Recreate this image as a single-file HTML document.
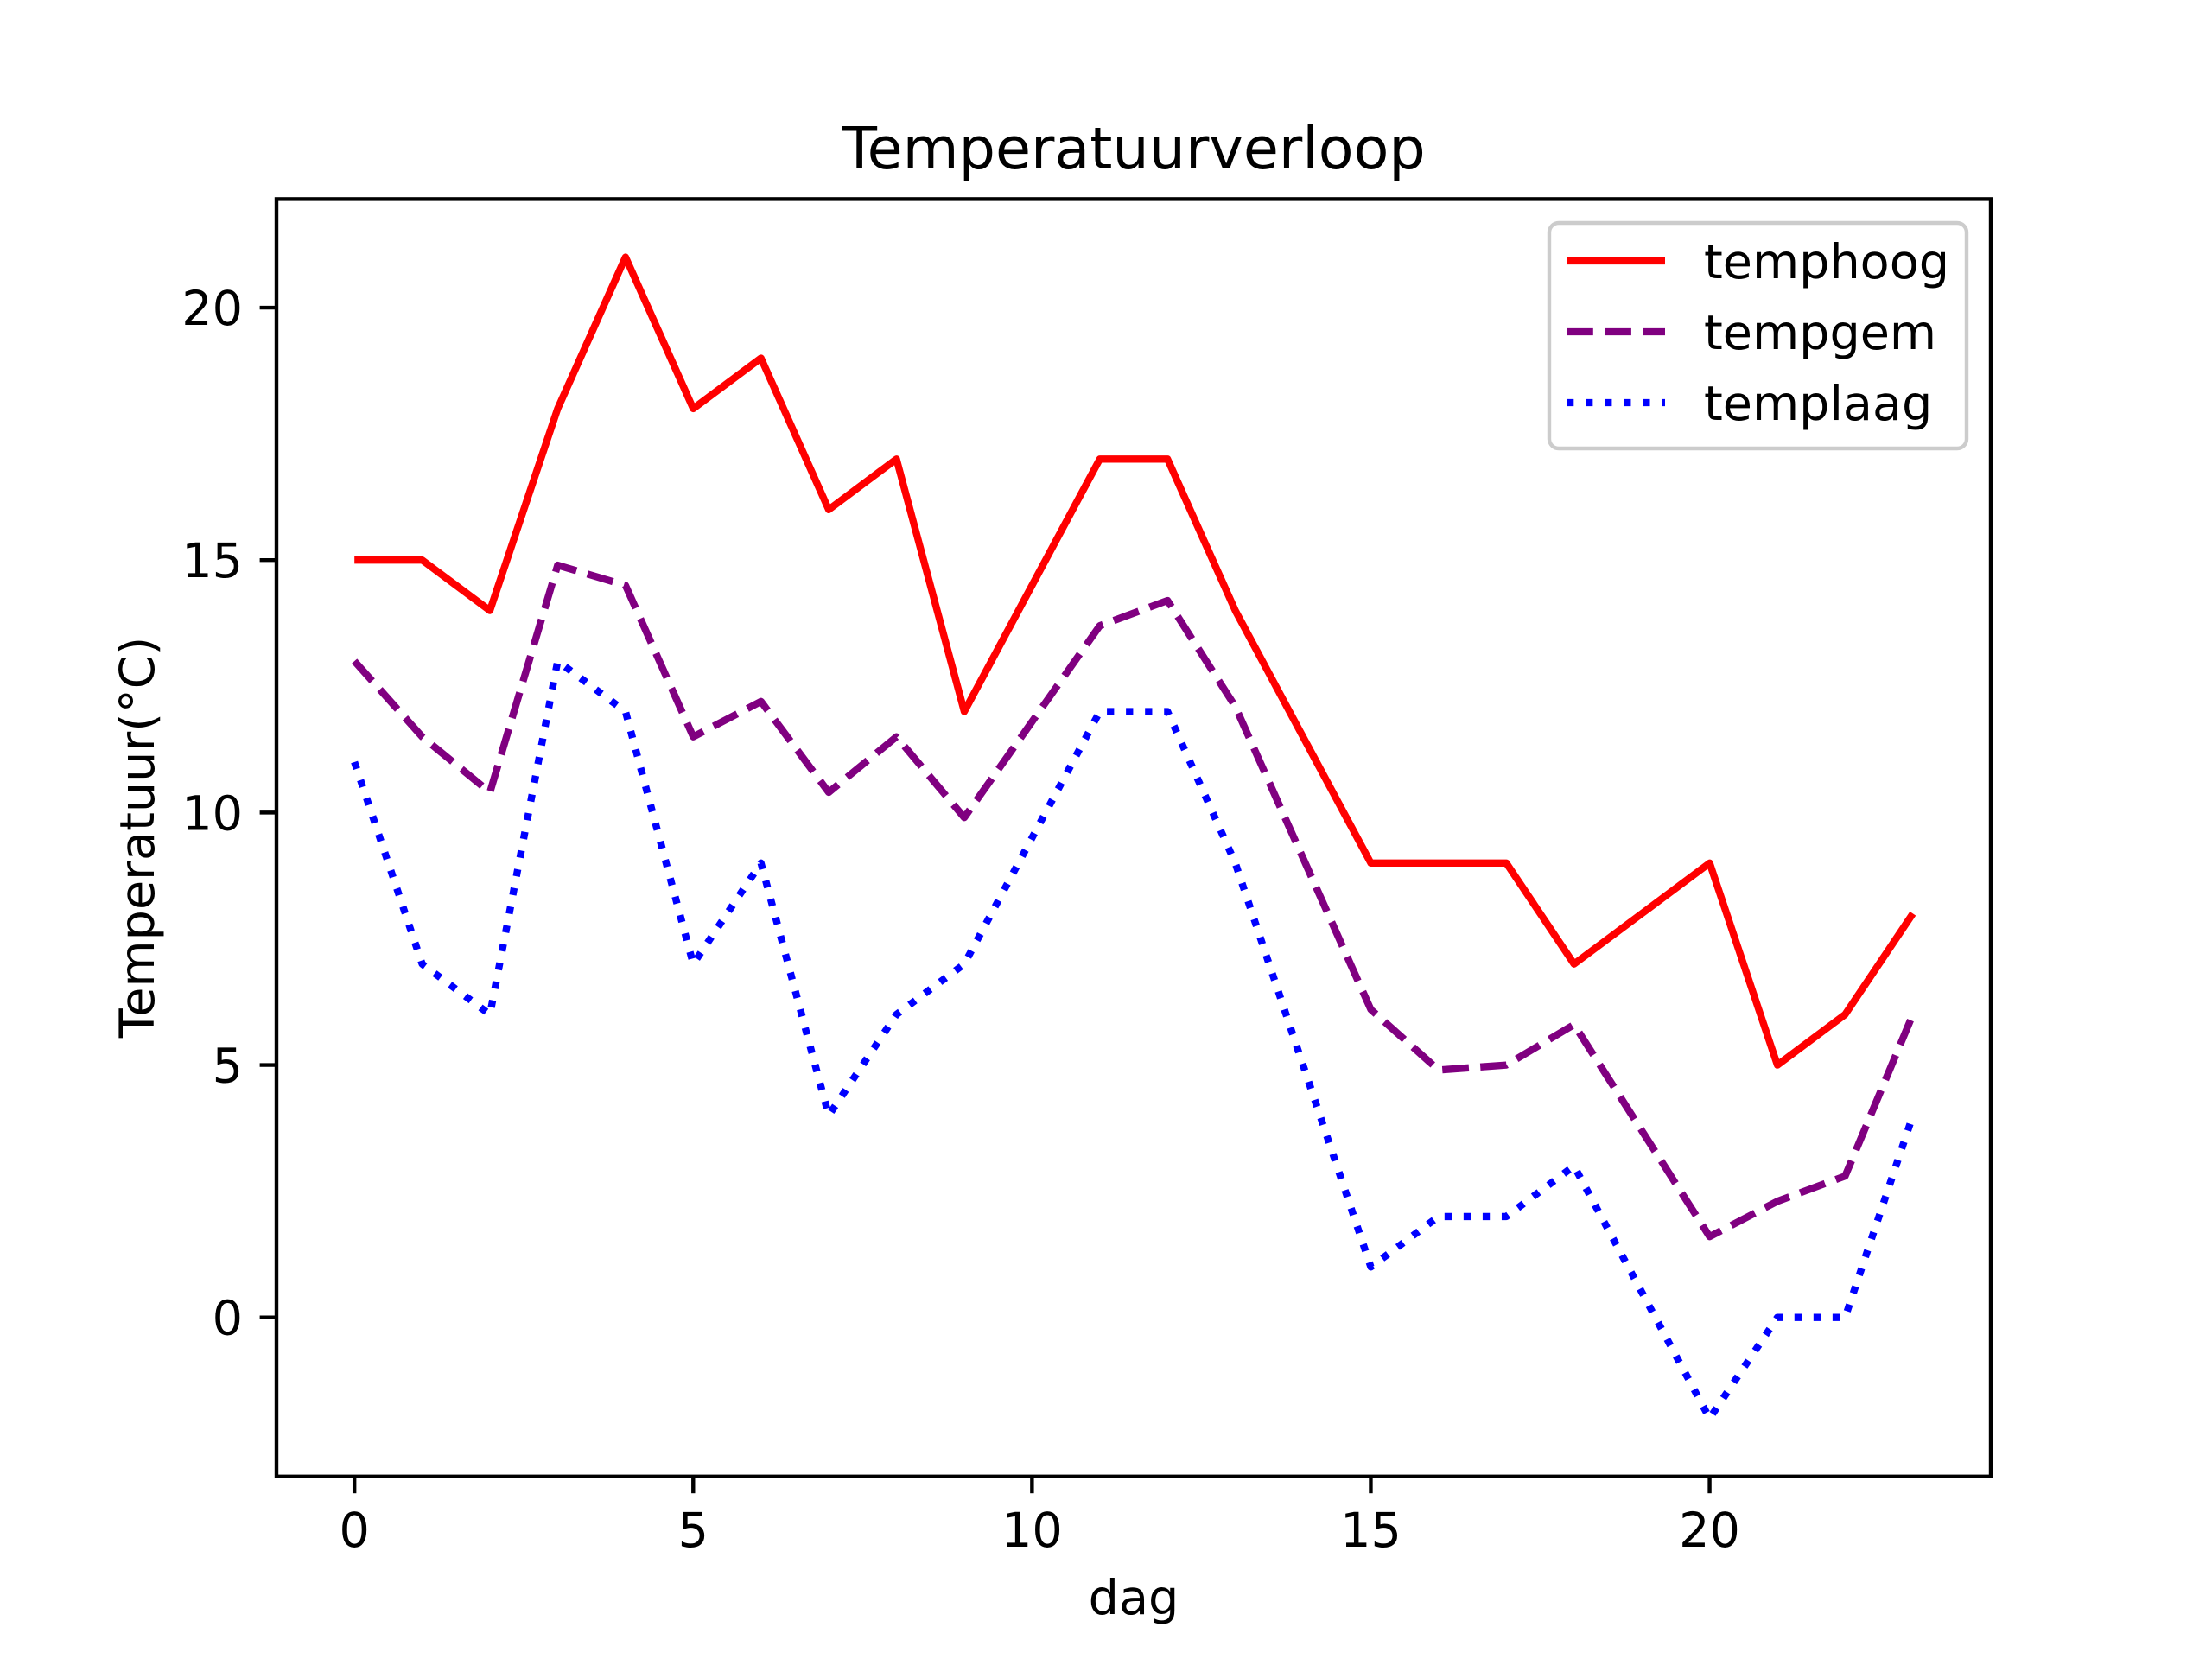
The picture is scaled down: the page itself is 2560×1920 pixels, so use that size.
<!DOCTYPE html>
<html><head><meta charset="utf-8"><style>html,body{margin:0;padding:0;background:#fff}svg{display:block}</style></head>
<body>
<svg id="s" width="2560" height="1920" viewBox="0 0 2560 1920" xmlns="http://www.w3.org/2000/svg" font-family="'DejaVu Sans', 'Liberation Sans', sans-serif">
<rect width="2560" height="1920" fill="#fff"/>
<g id="g"></g>
</svg>
<script>
const X=x=>320+(x+1.15)*1984/25.3, Y=y=>230.4+(22.15-y)*1478.4/25.3;
const hi=[15,15,14,18,21,18,19,16,17,12,14.5,17,17,14,11.5,9,9,9,7,8,9,5,6,8];
const av=[13,11.5,10.4,14.9,14.5,11.5,12.2,10.4,11.5,9.9,11.8,13.7,14.2,12.1,9.1,6.1,4.9,5.0,5.8,3.7,1.6,2.3,2.8,6];
const lo=[11,7,6,13,12,7,9,4,6,7,9.5,12,12,9,5,1,2,2,3,0.5,-2,0,0,4];
let h='';
const pl=(d,c,da)=>`<polyline fill="none" stroke="${c}" stroke-width="8.33" stroke-linejoin="round" ${da?`stroke-dasharray="${da}"`:''} points="${d.map((v,i)=>X(i).toFixed(1)+','+Y(v).toFixed(1)).join(' ')}"/>`;
h+=`<defs><clipPath id="c"><rect x="320" y="230.4" width="1984" height="1478.4"/></clipPath></defs><g clip-path="url(#c)">`;
h+=pl(hi,'#ff0000','');h+=pl(av,'#800080','30.8 13.3');h+=pl(lo,'#0000ff','8.3 13.75');
h+='</g>';
h+=`<rect x="320" y="230.4" width="1984" height="1478.4" fill="none" stroke="#000" stroke-width="4.4"/>`;
for(let t=0;t<=20;t+=5){let x=X(t);h+=`<line x1="${x}" y1="1708.8" x2="${x}" y2="1728.2" stroke="#000" stroke-width="4.4"/><text x="${x}" y="1790" font-size="55.6" text-anchor="middle">${t}</text>`;}
for(let t=0;t<=20;t+=5){let y=Y(t);h+=`<line x1="300.6" y1="${y}" x2="320" y2="${y}" stroke="#000" stroke-width="4.4"/><text x="281" y="${y+20}" font-size="55.6" text-anchor="end">${t}</text>`;}
h+=`<text x="1312" y="1868" font-size="55.6" text-anchor="middle">dag</text>`;
h+=`<text transform="translate(178,969) rotate(-90)" font-size="55.6" text-anchor="middle">Temperatuur(°C)</text>`;
h+=`<text x="1312" y="195" font-size="66.7" text-anchor="middle">Temperatuurverloop</text>`;
h+=`<rect x="1793" y="258" width="483" height="261" rx="11" fill="#fff" fill-opacity="0.8" stroke="#ccc" stroke-width="4.4"/>`;
const L=[['temphoog','#ff0000',''],['tempgem','#800080','30.8 13.3'],['templaag','#0000ff','8.3 13.75']];
L.forEach((l,i)=>{let y=302+i*82;h+=`<line x1="1813" y1="${y}" x2="1927" y2="${y}" stroke="${l[1]}" stroke-width="8.33" ${l[2]?`stroke-dasharray="${l[2]}"`:''}/><text x="1972" y="${y+20}" font-size="55.6">${l[0]}</text>`;});
document.getElementById('g').innerHTML=h;
</script>
</body></html>
